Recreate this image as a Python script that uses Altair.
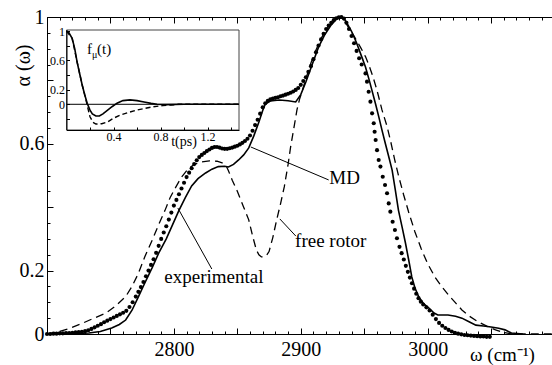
import altair as alt
import pandas as pd

FONT = "Liberation Serif"
W, H = 505, 317
XDOM = [2700, 3098]
YDOM = [0, 1]
# inset frame (pixels inside the plot area) and its data domains
IN_XR = [19.5, 192]
IN_YR = [113, 13]
IN_TDOM = [0, 1.468]
IN_FDOM = [-0.351, 1.014]

# ---------------- main spectrum data ----------------
exp_w = [2700, 2702.5, 2705, 2707.5, 2710, 2712.5, 2715, 2717.5, 2720, 2722.5, 2725, 2727.5, 2730, 2732.5,
         2735, 2737.5, 2740, 2742.5, 2745, 2747.5, 2750, 2752.5, 2755, 2757.5, 2760, 2762.5, 2765, 2767.5,
         2770, 2772, 2774, 2776, 2778, 2780, 2782, 2784, 2786, 2788, 2790, 2792, 2794, 2796, 2798, 2800,
         2802, 2804, 2806, 2808, 2810, 2812, 2814, 2816,
         2818, 2820, 2822, 2824, 2826, 2828, 2830, 2832, 2834, 2836, 2838, 2840, 2842, 2844, 2846, 2848,
         2850, 2852, 2854, 2856, 2858, 2860, 2862, 2864, 2866, 2868, 2870, 2872, 2874, 2876, 2878, 2880,
         2882, 2884, 2886, 2888, 2890, 2892, 2894, 2896, 2898, 2900, 2902, 2904, 2906, 2908, 2910, 2912,
         2914, 2916, 2918, 2920, 2922, 2924, 2926, 2928, 2930, 2932, 2934, 2936, 2938, 2940, 2942, 2944,
         2946, 2948,
         2951.0, 2952.2, 2953.5, 2954.9, 2956.2, 2957.5, 2958.2, 2959.0, 2960.1, 2961.4, 2962.8, 2964.6,
         2966.4, 2968.0, 2969.3, 2970.6, 2972.4, 2974.2, 2975.8, 2977.8, 2979.5,
         2981.2, 2982.8, 2984.4, 2986.0, 2987.6, 2989.3, 2991.0, 2992.8, 2994.6, 2996.5,
         2999, 3001.5, 3004, 3006.5, 3009, 3011.5, 3014, 3016.5, 3019, 3021.5, 3024, 3026.5, 3029, 3031.5,
         3034, 3036.5, 3039, 3041.5, 3044, 3046.5, 3049]
exp_a = [0.000, 0.000, 0.001, 0.001, 0.002, 0.002, 0.003, 0.003, 0.004, 0.005, 0.006, 0.007, 0.009, 0.012,
         0.016, 0.021, 0.026, 0.031, 0.037, 0.042, 0.047, 0.052, 0.057, 0.062, 0.067, 0.073, 0.085, 0.100,
         0.118, 0.133, 0.148, 0.164, 0.182, 0.200, 0.218, 0.236, 0.256, 0.278, 0.300, 0.320, 0.340, 0.361,
         0.383, 0.405, 0.423, 0.441, 0.459, 0.477, 0.495, 0.509, 0.523, 0.536,
         0.548, 0.558, 0.565, 0.571, 0.577, 0.582, 0.587, 0.590, 0.590, 0.588, 0.585, 0.584, 0.584, 0.586,
         0.588, 0.591, 0.594, 0.598, 0.603, 0.609, 0.616, 0.626, 0.641, 0.659, 0.676, 0.695, 0.715, 0.728,
         0.736, 0.740, 0.743, 0.745, 0.747, 0.750, 0.752, 0.755, 0.758, 0.761, 0.765, 0.770, 0.776, 0.786,
         0.798, 0.810, 0.827, 0.845, 0.867, 0.889, 0.910, 0.930, 0.947, 0.962, 0.973, 0.982, 0.990, 0.996,
         0.999, 1.000, 0.995, 0.982, 0.962, 0.940, 0.917, 0.893, 0.870, 0.850,
         0.822, 0.796, 0.764, 0.733, 0.696, 0.665, 0.638, 0.612, 0.580, 0.549, 0.528, 0.496, 0.470, 0.444,
         0.412, 0.386, 0.354, 0.328, 0.302, 0.275, 0.255,
         0.235, 0.215, 0.196, 0.178, 0.160, 0.143, 0.127, 0.113, 0.102, 0.093,
         0.084, 0.074, 0.061, 0.047, 0.035, 0.026, 0.019, 0.013, 0.008, 0.004, 0.001, -0.001, -0.003, -0.004,
         -0.005, -0.006, -0.007, -0.008, -0.008, -0.009, -0.009]

md_w = [2700, 2720, 2733, 2742, 2751, 2757, 2762, 2767, 2772, 2777, 2783, 2788, 2794, 2799, 2804, 2809,
        2814, 2819, 2825, 2830, 2835, 2840, 2843, 2847, 2851, 2855, 2859, 2863, 2867, 2870, 2872, 2876,
        2883, 2890, 2896, 2900, 2904, 2909, 2914, 2919, 2924, 2928, 2931.5, 2935, 2940, 2944, 2948, 2951,
        2954, 2956, 2959, 2961.5, 2964, 2966.7, 2969.3, 2972, 2974.5, 2977, 2980, 2982.5, 2985, 2987.5,
        2990, 2993, 2997, 3001, 3005, 3008, 3012, 3016, 3022, 3027, 3033, 3038, 3044, 3050, 3056, 3061,
        3066, 3075]
md_a = [0.0, 0.001, 0.003, 0.008, 0.019, 0.03, 0.044, 0.075, 0.117, 0.16, 0.21, 0.255, 0.30, 0.345, 0.39,
        0.43, 0.467, 0.49, 0.508, 0.52, 0.528, 0.529, 0.527, 0.535, 0.549, 0.565, 0.587, 0.625, 0.669,
        0.705, 0.725, 0.735, 0.738, 0.736, 0.732, 0.755, 0.795, 0.85, 0.905, 0.945, 0.975, 0.993, 1.0,
        0.99, 0.955, 0.918, 0.875, 0.842, 0.80, 0.77, 0.725, 0.685, 0.643, 0.60, 0.56, 0.517, 0.455, 0.39,
        0.335, 0.287, 0.235, 0.18, 0.145, 0.117, 0.095, 0.082, 0.066, 0.06, 0.06, 0.06, 0.056, 0.05, 0.038,
        0.028, 0.025, 0.022, 0.018, 0.013, 0.003, 0.0]

fr_w = [2700, 2709, 2718, 2728, 2737, 2746, 2754, 2762, 2767, 2772, 2777, 2783, 2788, 2793, 2797, 2801,
        2806, 2811, 2816, 2822, 2828, 2834, 2838, 2841, 2843, 2846, 2850, 2855, 2859, 2862, 2865, 2867,
        2869, 2871, 2873, 2875, 2878, 2881, 2884, 2887, 2890, 2892, 2895, 2897, 2899, 2901, 2904, 2908,
        2912, 2916, 2920, 2925, 2930, 2934, 2938, 2942, 2947, 2951, 2954, 2957, 2960, 2964, 2968, 2971,
        2974, 2977, 2981, 2985, 2990, 2995, 3000, 3006, 3011, 3016.5, 3022, 3027, 3033, 3040, 3047,
        3053.5, 3060, 3066, 3098]
fr_a = [0.0, 0.007, 0.018, 0.034, 0.05, 0.065, 0.088, 0.118, 0.15, 0.191, 0.243, 0.297, 0.345, 0.39, 0.43,
        0.46, 0.495, 0.52, 0.535, 0.543, 0.546, 0.545, 0.54, 0.532, 0.515, 0.485, 0.45, 0.40, 0.36, 0.31,
        0.265, 0.25, 0.243, 0.243, 0.248, 0.26, 0.305, 0.36, 0.41, 0.464, 0.535, 0.59, 0.66, 0.707, 0.74,
        0.765, 0.805, 0.855, 0.896, 0.932, 0.96, 0.985, 1.0, 0.99, 0.965, 0.94, 0.905, 0.875, 0.845, 0.81,
        0.77, 0.707, 0.655, 0.605, 0.55, 0.50, 0.44, 0.385, 0.322, 0.268, 0.222, 0.178, 0.15, 0.123, 0.098,
        0.076, 0.056, 0.038, 0.024, 0.013, 0.005, 0.0, 0.0]

# annotations (text, position, pointer line ends)
lab_text = ["experimental", "MD", "free rotor"]
lab_w = [2831.5, 2934.6, 2923.6]
lab_a = [0.18, 0.492, 0.293]
ptr_w1 = [2803.1, 2860.6, 2883.5]
ptr_a1 = [0.3975, 0.590, 0.363]
ptr_w2 = [2829.9, 2922.0, 2896.1]
ptr_a2 = [0.205, 0.486, 0.309]

# ---------------- inset data ----------------
in_t_md = [0, 0.02, 0.048, 0.07, 0.09, 0.113, 0.134, 0.155, 0.176, 0.2, 0.22, 0.25, 0.28, 0.31, 0.35,
           0.39, 0.43, 0.48, 0.54, 0.6, 0.66, 0.72, 0.77, 0.85, 1.0, 1.2, 1.468]
in_f_md = [1.0, 0.98, 0.90, 0.76, 0.58, 0.41, 0.26, 0.13, 0.014, -0.08, -0.13, -0.16, -0.16, -0.13, -0.08,
           -0.03, 0.015, 0.05, 0.06, 0.05, 0.03, 0.012, 0.0, -0.004, 0.0, 0.0, 0.0]
in_t_fr = [0, 0.048, 0.09, 0.134, 0.16, 0.18, 0.2, 0.225, 0.25, 0.3, 0.35, 0.4, 0.46, 0.53, 0.6, 0.67,
           0.74, 0.82, 0.89, 0.95, 1.2, 1.468]
in_f_fr = [1.0, 0.90, 0.58, 0.26, 0.10, -0.04, -0.17, -0.245, -0.27, -0.265, -0.24, -0.19, -0.146, -0.11,
           -0.078, -0.055, -0.033, -0.018, -0.01, 0.0, 0.0, 0.0]

# ---------------- frames ----------------
exp_df = pd.DataFrame({"w": exp_w, "a": exp_a})
md_df = pd.DataFrame({"w": md_w, "a": md_a})
fr_df = pd.DataFrame({"w": fr_w, "a": fr_a})
lab_df = pd.DataFrame({"t": lab_text, "w": lab_w, "a": lab_a})
ptr_df = pd.DataFrame({"w1": ptr_w1, "a1": ptr_a1, "w2": ptr_w2, "a2": ptr_a2})
in_md_df = pd.DataFrame({"t": in_t_md, "f": in_f_md})
in_fr_df = pd.DataFrame({"t": in_t_fr, "f": in_f_fr})
anchor_main = pd.DataFrame({"w": [2700], "a": [0.0]})
anchor_in = pd.DataFrame({"t": [0.0], "f": [0.0]})
box_df = pd.DataFrame({"t1": [IN_TDOM[0]], "t2": [IN_TDOM[1]], "f1": [IN_FDOM[0]], "f2": [IN_FDOM[1]]})
zero_df = pd.DataFrame({"t1": [IN_TDOM[0]], "t2": [IN_TDOM[1]], "f": [0.0]})
in_txt_df = pd.DataFrame({"s": ["f", "(t)"], "t": [0.1745, 0.2596], "f": [0.68, 0.68]})
in_sub_df = pd.DataFrame({"s": ["μ"], "t": [0.217], "f": [0.635]})
in_tlab_df = pd.DataFrame({"s": ["t(ps)"], "t": [1.0], "f": [-0.52]})


def xsc():
    return alt.Scale(domain=XDOM, nice=False, zero=False)


def ysc():
    return alt.Scale(domain=YDOM, nice=False, zero=False)


def tsc():
    return alt.Scale(domain=IN_TDOM, range=IN_XR, nice=False, zero=False)


def fsc():
    return alt.Scale(domain=IN_FDOM, range=IN_YR, nice=False, zero=False)


AX = dict(grid=False, domainColor="black", tickColor="black", labelColor="black",
          labelFont=FONT, titleFont=FONT, titleColor="black", zindex=1,
          labelExpr="'' + datum.value")


def main_axis_layer(xaxis=None, yaxis=None):
    return alt.Chart(anchor_main).mark_point(opacity=0).encode(
        x=alt.X("w:Q", scale=xsc(), axis=xaxis),
        y=alt.Y("a:Q", scale=ysc(), axis=yaxis),
    )


def inset_axis_layer(xaxis=None, yaxis=None):
    return alt.Chart(anchor_in).mark_point(opacity=0).encode(
        x=alt.X("t:Q", scale=tsc(), axis=xaxis),
        y=alt.Y("f:Q", scale=fsc(), axis=yaxis),
    )


x_major = [2750, 2800, 2850, 2900, 2950, 3000, 3050]
x_minor = [v for v in range(2700, 3100, 10)]
y_major = [0, 0.2, 0.4, 0.6, 0.8, 1.0]
y_minor = [round(0.05 * i, 2) for i in range(21)]

layers = []

# main curves
layers.append(alt.Chart(fr_df).mark_line(color="black", strokeWidth=1.3, strokeDash=[8, 5]).encode(
    x=alt.X("w:Q", scale=xsc(), axis=None), y=alt.Y("a:Q", scale=ysc(), axis=None)))
layers.append(alt.Chart(md_df).mark_line(color="black", strokeWidth=1.6).encode(
    x=alt.X("w:Q", scale=xsc(), axis=None), y=alt.Y("a:Q", scale=ysc(), axis=None)))
layers.append(alt.Chart(exp_df).mark_circle(color="black", size=17, opacity=1).encode(
    x=alt.X("w:Q", scale=xsc(), axis=None), y=alt.Y("a:Q", scale=ysc(), axis=None)))

# annotation pointers and labels
layers.append(alt.Chart(ptr_df).mark_rule(color="black", strokeWidth=1).encode(
    x=alt.X("w1:Q", scale=xsc(), axis=None), x2="w2:Q",
    y=alt.Y("a1:Q", scale=ysc(), axis=None), y2="a2:Q"))
layers.append(alt.Chart(lab_df).mark_text(font=FONT, fontSize=19, color="black").encode(
    x=alt.X("w:Q", scale=xsc(), axis=None), y=alt.Y("a:Q", scale=ysc(), axis=None), text="t:N"))

# main axes
layers.append(main_axis_layer(
    xaxis=alt.Axis(orient="bottom", values=[2800, 2900, 3000], ticks=False, labelPadding=5,
                   labelFontSize=20, labelFlush=False, domain=True, domainWidth=1,
                   title="ω (cm⁻¹)", titleX=455, titleY=26, titleFontSize=19,
                   titleFontWeight="normal", titleAlign="center", titleBaseline="alphabetic", **AX),
    yaxis=alt.Axis(orient="left", values=[0, 0.2, 0.6, 1], ticks=False, labelPadding=3,
                   labelFontSize=20, labelFlush=False, domain=True, domainWidth=1,
                   title="α (ω)", titleX=-24, titleY=48, titleAngle=270, titleFontSize=20,
                   titleFontWeight="normal", titleAlign="center", titleBaseline="middle", **AX)))
layers.append(main_axis_layer(
    xaxis=alt.Axis(orient="top", offset=-H, values=x_major, tickSize=6, labels=False,
                   domain=False, title=None, **AX),
    yaxis=alt.Axis(orient="right", offset=-W, values=y_major, tickSize=6, labels=False,
                   domain=False, title=None, **AX)))
layers.append(main_axis_layer(
    xaxis=alt.Axis(orient="top", offset=-H, values=x_minor, tickSize=3, labels=False,
                   domain=False, title=None, **AX),
    yaxis=alt.Axis(orient="right", offset=-W, values=y_minor, tickSize=3, labels=False,
                   domain=False, title=None, **AX)))
layers.append(main_axis_layer(
    xaxis=alt.Axis(orient="bottom", offset=-H, values=x_major, tickSize=6, labels=False,
                   domain=True, domainWidth=1, title=None, **AX)))
layers.append(main_axis_layer(
    xaxis=alt.Axis(orient="bottom", offset=-H, values=x_minor, tickSize=3, labels=False,
                   domain=False, title=None, **AX)))

# inset
layers.append(alt.Chart(box_df).mark_rect(filled=False, stroke="#444444", strokeWidth=1).encode(
    x=alt.X("t1:Q", scale=tsc(), axis=None), x2="t2:Q",
    y=alt.Y("f1:Q", scale=fsc(), axis=None), y2="f2:Q"))
layers.append(alt.Chart(zero_df).mark_rule(color="black", strokeWidth=1).encode(
    x=alt.X("t1:Q", scale=tsc(), axis=None), x2="t2:Q",
    y=alt.Y("f:Q", scale=fsc(), axis=None)))
layers.append(alt.Chart(in_fr_df).mark_line(color="black", strokeWidth=1.4, strokeDash=[5, 3]).encode(
    x=alt.X("t:Q", scale=tsc(), axis=None), y=alt.Y("f:Q", scale=fsc(), axis=None)))
layers.append(alt.Chart(in_md_df).mark_line(color="black", strokeWidth=1.6).encode(
    x=alt.X("t:Q", scale=tsc(), axis=None), y=alt.Y("f:Q", scale=fsc(), axis=None)))
layers.append(alt.Chart(in_txt_df).mark_text(font=FONT, fontSize=15, color="black", align="left",
                                             baseline="alphabetic").encode(
    x=alt.X("t:Q", scale=tsc(), axis=None), y=alt.Y("f:Q", scale=fsc(), axis=None), text="s:N"))
layers.append(alt.Chart(in_sub_df).mark_text(font=FONT, fontSize=10, color="black", align="left",
                                             baseline="alphabetic").encode(
    x=alt.X("t:Q", scale=tsc(), axis=None), y=alt.Y("f:Q", scale=fsc(), axis=None), text="s:N"))
layers.append(alt.Chart(in_tlab_df).mark_text(font=FONT, fontSize=14, color="black").encode(
    x=alt.X("t:Q", scale=tsc(), axis=None), y=alt.Y("f:Q", scale=fsc(), axis=None), text="s:N"))
layers.append(inset_axis_layer(
    xaxis=alt.Axis(orient="bottom", offset=-(H - IN_YR[0]), values=[0.4, 0.8, 1.2], ticks=False,
                   labelPadding=1, labelFontSize=12, labelFlush=False, domain=True,
                   domainWidth=1, title=None, **AX),
    yaxis=alt.Axis(orient="left", offset=-IN_XR[0], values=[0, 0.2, 0.6, 1], ticks=False,
                   labelPadding=2, labelFontSize=12, labelFlush=False, domain=True,
                   domainWidth=1, title=None, **AX)))
layers.append(inset_axis_layer(
    xaxis=alt.Axis(orient="top", offset=-IN_YR[0], values=[0.2, 0.4, 0.6, 0.8, 1.0, 1.2, 1.4],
                   tickSize=3, labels=False, domain=False, title=None, **AX),
    yaxis=alt.Axis(orient="right", offset=-(W - IN_XR[0]), values=[-0.2, 0, 0.2, 0.4, 0.6, 0.8, 1.0],
                   tickSize=3, labels=False, domain=False, title=None, **AX)))

chart = alt.layer(*layers).resolve_scale(x="independent", y="independent").properties(
    width=W, height=H,
    padding={"left": 47, "top": 17, "right": 0, "bottom": 31},
    autosize=alt.AutoSizeParams(type="none"),
    background="white",
).configure_view(strokeWidth=0)

chart.save("out.html", embed_options={"renderer": "svg", "actions": False})
